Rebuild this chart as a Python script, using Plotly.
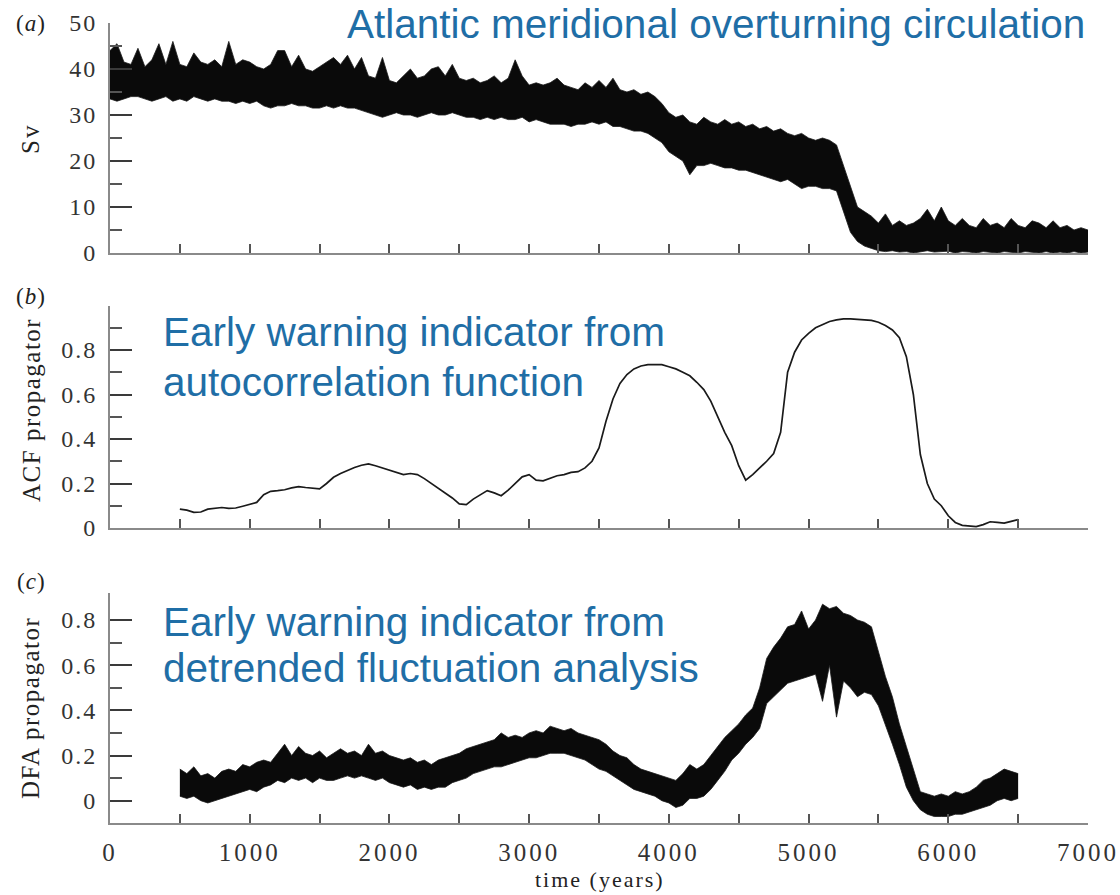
import plotly.graph_objects as go

# ---------------- data ----------------
AMOC_YEARS = list(range(0, 7001, 50))
AMOC_LOW = [
    33.5, 33.0, 33.5, 34.0, 34.0, 33.5, 33.0, 33.5, 34.0, 33.0,
    33.5, 33.0, 34.0, 33.5, 33.0, 33.5, 33.0, 33.0, 32.5, 33.0,
    32.5, 33.0, 32.0, 31.5, 32.0, 32.0, 32.5, 32.0, 32.0, 31.5,
    31.5, 32.0, 31.5, 32.0, 31.5, 31.5, 31.0, 30.5, 30.0, 29.5,
    30.0, 30.5, 30.0, 30.0, 29.5, 30.0, 30.5, 30.0, 30.0, 30.5,
    30.0, 29.5, 29.5, 29.0, 29.5, 29.0, 29.5, 29.0, 29.0, 29.5,
    28.5, 29.0, 28.5, 28.0, 28.0, 28.0, 27.5, 28.0, 28.0, 28.5,
    28.0, 28.5, 27.5, 27.5, 27.0, 26.5, 26.5, 26.0, 25.0, 24.0,
    22.0, 21.0, 20.0, 17.0, 19.0, 19.0, 19.5, 19.0, 18.5, 18.5,
    18.0, 18.0, 17.5, 17.0, 16.5, 16.0, 15.5, 16.0, 15.0, 14.0,
    14.5, 14.5, 14.0, 14.0, 13.5, 9.0, 4.5, 2.5, 1.5, 1.0,
    0.5, 0.3, 0.5, 0.2, 0.3, 0.0, 0.3, 0.5, 0.2, 0.3,
    0.4, 0.0, 0.3, 0.2, 0.0, 0.3, 0.2, 0.0, 0.3, 0.2,
    0.0, 0.3, 0.2, 0.0, 0.3, 0.0, 0.2, 0.0, 0.3, 0.0,
    0.2,
]
AMOC_HIGH = [
    44.0, 45.5, 41.5, 41.0, 44.5, 40.5, 42.0, 45.5, 41.0, 46.0,
    41.0, 40.5, 43.5, 41.5, 41.0, 42.0, 40.5, 46.0, 41.0, 42.0,
    41.5, 40.5, 40.0, 41.0, 44.0, 44.0, 40.5, 43.0, 40.0, 39.5,
    40.5, 41.5, 42.5, 41.0, 43.0, 40.0, 42.5, 38.5, 38.0, 42.5,
    37.5, 37.0, 38.5, 40.0, 38.0, 38.5, 40.0, 40.5, 38.5, 41.0,
    38.0, 37.5, 38.0, 37.0, 37.5, 38.5, 37.0, 38.0, 42.0, 38.5,
    36.5, 37.0, 36.5, 37.0, 38.0, 36.5, 36.0, 35.5, 37.0, 36.0,
    37.5, 36.0, 38.0, 35.5, 35.0, 35.5, 34.5, 35.0, 34.0, 32.5,
    30.5, 29.5, 30.0, 28.5, 28.0, 29.5, 28.5, 28.0, 29.0, 28.0,
    28.5, 27.5, 28.0, 27.0, 27.5, 26.5, 27.0, 26.0, 25.5, 26.0,
    25.0, 24.5, 25.0, 24.5, 23.5, 19.0, 14.0, 10.0, 9.0, 8.0,
    6.5, 8.5, 6.0, 7.0, 6.0, 6.5, 7.5, 9.5, 7.0, 10.0,
    7.0, 6.0, 7.5, 6.0, 5.5, 7.5, 6.0, 6.5, 5.5, 7.5,
    6.0, 5.5, 7.0, 6.5, 5.5, 7.0, 5.5, 6.0, 5.0, 5.5,
    5.0,
]

ACF_YEARS = list(range(500, 6501, 50))
ACF_VALUES = [
    0.085, 0.080, 0.070, 0.072, 0.085, 0.090, 0.092, 0.088, 0.090, 0.098,
    0.105, 0.115, 0.150, 0.165, 0.168, 0.172, 0.180, 0.186, 0.182, 0.178,
    0.176, 0.200, 0.228, 0.245, 0.260, 0.272, 0.282, 0.288, 0.280, 0.270,
    0.262, 0.250, 0.240, 0.245, 0.240, 0.222, 0.200, 0.178, 0.155, 0.135,
    0.108, 0.105, 0.130, 0.150, 0.168, 0.158, 0.145, 0.170, 0.200, 0.230,
    0.240, 0.215, 0.212, 0.225, 0.235, 0.240, 0.250, 0.253, 0.270, 0.300,
    0.360, 0.480, 0.580, 0.650, 0.690, 0.715, 0.728, 0.734, 0.735, 0.734,
    0.725, 0.715, 0.700, 0.684, 0.655, 0.622, 0.570, 0.500, 0.430, 0.370,
    0.280, 0.215, 0.240, 0.270, 0.300, 0.335, 0.430, 0.700, 0.790, 0.845,
    0.875, 0.900, 0.915, 0.928, 0.935, 0.940, 0.940, 0.938, 0.936, 0.933,
    0.925, 0.910, 0.890, 0.855, 0.770, 0.600, 0.330, 0.200, 0.130, 0.100,
    0.055, 0.025, 0.012, 0.008, 0.006, 0.015, 0.028, 0.025, 0.022, 0.030,
    0.038,
]

DFA_YEARS = list(range(500, 6501, 50))
DFA_LOW = [
    0.02, 0.01, 0.02, 0.00, -0.01, 0.00, 0.01, 0.02, 0.03, 0.04,
    0.05, 0.04, 0.06, 0.07, 0.09, 0.08, 0.10, 0.09, 0.10, 0.08,
    0.10, 0.09, 0.09, 0.10, 0.11, 0.10, 0.11, 0.10, 0.09, 0.10,
    0.08, 0.07, 0.06, 0.07, 0.05, 0.06, 0.05, 0.06, 0.06, 0.08,
    0.09, 0.10, 0.12, 0.13, 0.14, 0.15, 0.15, 0.16, 0.17, 0.18,
    0.19, 0.19, 0.20, 0.21, 0.21, 0.21, 0.20, 0.19, 0.18, 0.16,
    0.14, 0.13, 0.11, 0.09, 0.07, 0.05, 0.04, 0.03, 0.02, 0.00,
    -0.01, -0.03, -0.02, 0.01, 0.01, 0.02, 0.05, 0.09, 0.13, 0.18,
    0.21, 0.25, 0.28, 0.32, 0.43, 0.46, 0.49, 0.52, 0.53, 0.54,
    0.55, 0.56, 0.44, 0.60, 0.37, 0.53, 0.50, 0.46, 0.48, 0.47,
    0.42, 0.33, 0.25, 0.16, 0.06, 0.00, -0.04, -0.06, -0.07, -0.07,
    -0.07, -0.06, -0.06, -0.05, -0.04, -0.03, -0.02, 0.00, 0.01, 0.00,
    0.01,
]
DFA_HIGH = [
    0.14, 0.12, 0.15, 0.11, 0.12, 0.10, 0.13, 0.14, 0.13, 0.16,
    0.15, 0.17, 0.18, 0.17, 0.21, 0.25, 0.20, 0.24, 0.21, 0.20,
    0.22, 0.19, 0.21, 0.23, 0.21, 0.22, 0.20, 0.25, 0.21, 0.22,
    0.20, 0.19, 0.18, 0.19, 0.17, 0.18, 0.16, 0.18, 0.19, 0.20,
    0.21, 0.23, 0.24, 0.25, 0.26, 0.27, 0.30, 0.28, 0.29, 0.28,
    0.30, 0.31, 0.30, 0.33, 0.32, 0.31, 0.32, 0.30, 0.29, 0.28,
    0.27, 0.25, 0.22, 0.20, 0.19, 0.16, 0.14, 0.13, 0.12, 0.11,
    0.10, 0.09, 0.12, 0.16, 0.14, 0.16, 0.20, 0.24, 0.28, 0.31,
    0.34, 0.38, 0.41, 0.50, 0.63, 0.68, 0.72, 0.77, 0.78, 0.84,
    0.76, 0.80, 0.87, 0.85, 0.86, 0.83, 0.82, 0.80, 0.79, 0.77,
    0.66, 0.55, 0.46, 0.34, 0.24, 0.14, 0.04, 0.03, 0.02, 0.03,
    0.02, 0.04, 0.03, 0.04, 0.06, 0.09, 0.10, 0.12, 0.14, 0.13,
    0.12,
]

X_TICKS = list(range(0, 7001, 500))
X_LABELS = ["0", "", "1000", "", "2000", "", "3000", "", "4000", "", "5000", "", "6000", "", "7000"]

SV_MAJOR = [0, 10, 20, 30, 40, 50]
SV_MINOR = [5, 15, 25, 35, 45]
ACF_MAJOR = [0, 0.2, 0.4, 0.6, 0.8]
ACF_MINOR = [0.1, 0.3, 0.5, 0.7, 0.9]
DFA_MAJOR = [0, 0.2, 0.4, 0.6, 0.8]
DFA_MINOR = [0.1, 0.3, 0.5, 0.7]

# ---------------- figure ----------------
W, H = 1120, 895
SERIF = "Liberation Serif"
SANS = "Liberation Sans"
BLUE = "#1f6ea6"
AXIS_GRAY = "#8a8a8a"
TICK_GRAY = "#555555"

def px_x(p):  # window pixel -> paper fraction
    return p / W

def px_y(p):
    return 1 - p / H

def spaced(s, sp):
    return '<span style="letter-spacing:%.1fpx">%s</span>' % (sp, s)

fig = go.Figure()

band_line = dict(color="#1a1a1a", width=0.8)

# Panel a: AMOC band
fig.add_trace(go.Scatter(x=AMOC_YEARS, y=AMOC_LOW, mode="lines", line=band_line,
                         xaxis="x", yaxis="y", showlegend=False, hoverinfo="skip"))
fig.add_trace(go.Scatter(x=AMOC_YEARS, y=AMOC_HIGH, mode="lines", line=band_line,
                         fill="tonexty", fillcolor="#0a0a0a",
                         xaxis="x", yaxis="y", showlegend=False, hoverinfo="skip"))

# Panel b: ACF line
fig.add_trace(go.Scatter(x=ACF_YEARS, y=ACF_VALUES, mode="lines",
                         line=dict(color="#1a1a1a", width=1.7),
                         xaxis="x2", yaxis="y2", showlegend=False))

# Panel c: DFA band
fig.add_trace(go.Scatter(x=DFA_YEARS, y=DFA_LOW, mode="lines", line=band_line,
                         xaxis="x3", yaxis="y3", showlegend=False, hoverinfo="skip"))
fig.add_trace(go.Scatter(x=DFA_YEARS, y=DFA_HIGH, mode="lines", line=band_line,
                         fill="tonexty", fillcolor="#0a0a0a",
                         xaxis="x3", yaxis="y3", showlegend=False, hoverinfo="skip"))

x_domain = [px_x(110), px_x(1088)]

def xaxis(anchor, labels):
    d = dict(domain=x_domain, anchor=anchor, range=[0, 7000], automargin=False,
             tickmode="array", tickvals=X_TICKS,
             ticks="inside", ticklen=9, tickwidth=2, tickcolor=TICK_GRAY,
             showline=True, linecolor=AXIS_GRAY, linewidth=2,
             showgrid=False, zeroline=False, fixedrange=True)
    if labels:
        d.update(ticktext=[spaced(t, 3) if t else "" for t in X_LABELS],
                 showticklabels=True, ticklabelstandoff=6, ticklabeloverflow="allow",
                 tickfont=dict(family=SERIF, size=25, color="#333333"))
    else:
        d.update(showticklabels=False)
    return d

def yaxis(anchor, top_px, bottom_px, rng, major, minor):
    return dict(domain=[px_y(bottom_px), px_y(top_px)], anchor=anchor, range=rng,
                automargin=False,
                tickmode="array", tickvals=major,
                ticktext=[spaced("%g" % v, 2) for v in major],
                ticks="inside", ticklen=22, tickwidth=2, tickcolor="#3a3a3a",
                minor=dict(tickmode="array", tickvals=minor, ticks="inside",
                           ticklen=12, tickwidth=2, tickcolor=TICK_GRAY, showgrid=False),
                showline=True, linecolor=AXIS_GRAY, linewidth=2,
                showgrid=False, zeroline=False, fixedrange=True,
                ticklabelstandoff=6, ticklabeloverflow="allow",
                tickfont=dict(family=SERIF, size=24, color="#333333"))

annotations = []

def text(x, y, s, size, family, color="#222222", xanchor="center", angle=0):
    annotations.append(dict(x=px_x(x), y=px_y(y), xref="paper", yref="paper",
                            text=s, showarrow=False, xanchor=xanchor, yanchor="middle",
                            textangle=angle,
                            font=dict(family=family, size=size, color=color)))

# panel letters
text(31, 24, spaced("(<i>a</i>)", 1), 23, SERIF)
text(31, 297, spaced("(<i>b</i>)", 1), 23, SERIF)
text(31, 581, spaced("(<i>c</i>)", 1), 23, SERIF)

# y titles
text(30, 139, spaced("Sv", 2), 25, SERIF, angle=-90)
text(31, 410, spaced("ACF propagator", 1.5), 25, SERIF, angle=-90)
text(30, 708, spaced("DFA propagator", 1.5), 25, SERIF, angle=-90)

# x title
text(600, 879, spaced("time (years)", 2), 22, SERIF)

# blue descriptive labels
text(1087, 24, "Atlantic meridional overturning circulation", 40.5, SANS, BLUE, xanchor="right")
text(161, 332, "Early warning indicator from", 40.5, SANS, BLUE, xanchor="left")
text(161, 382, "autocorrelation function", 40.5, SANS, BLUE, xanchor="left")
text(161, 622, "Early warning indicator from", 40.5, SANS, BLUE, xanchor="left")
text(161, 668, "detrended fluctuation analysis", 40.5, SANS, BLUE, xanchor="left")

fig.update_layout(
    template="none",
    width=W, height=H,
    margin=dict(l=0, r=0, t=0, b=0, pad=0),
    paper_bgcolor="white", plot_bgcolor="white",
    showlegend=False,
    xaxis=xaxis("y", False),
    xaxis2=xaxis("y2", False),
    xaxis3=xaxis("y3", True),
    yaxis=yaxis("x", 23, 253, [0, 50], SV_MAJOR, SV_MINOR),
    yaxis2=yaxis("x2", 305.5, 528, [0, 1.0], ACF_MAJOR, ACF_MINOR),
    yaxis3=yaxis("x3", 592.9, 823.3, [-0.1, 0.92], DFA_MAJOR, DFA_MINOR),
    annotations=annotations,
)

fig.write_html("out.html")
